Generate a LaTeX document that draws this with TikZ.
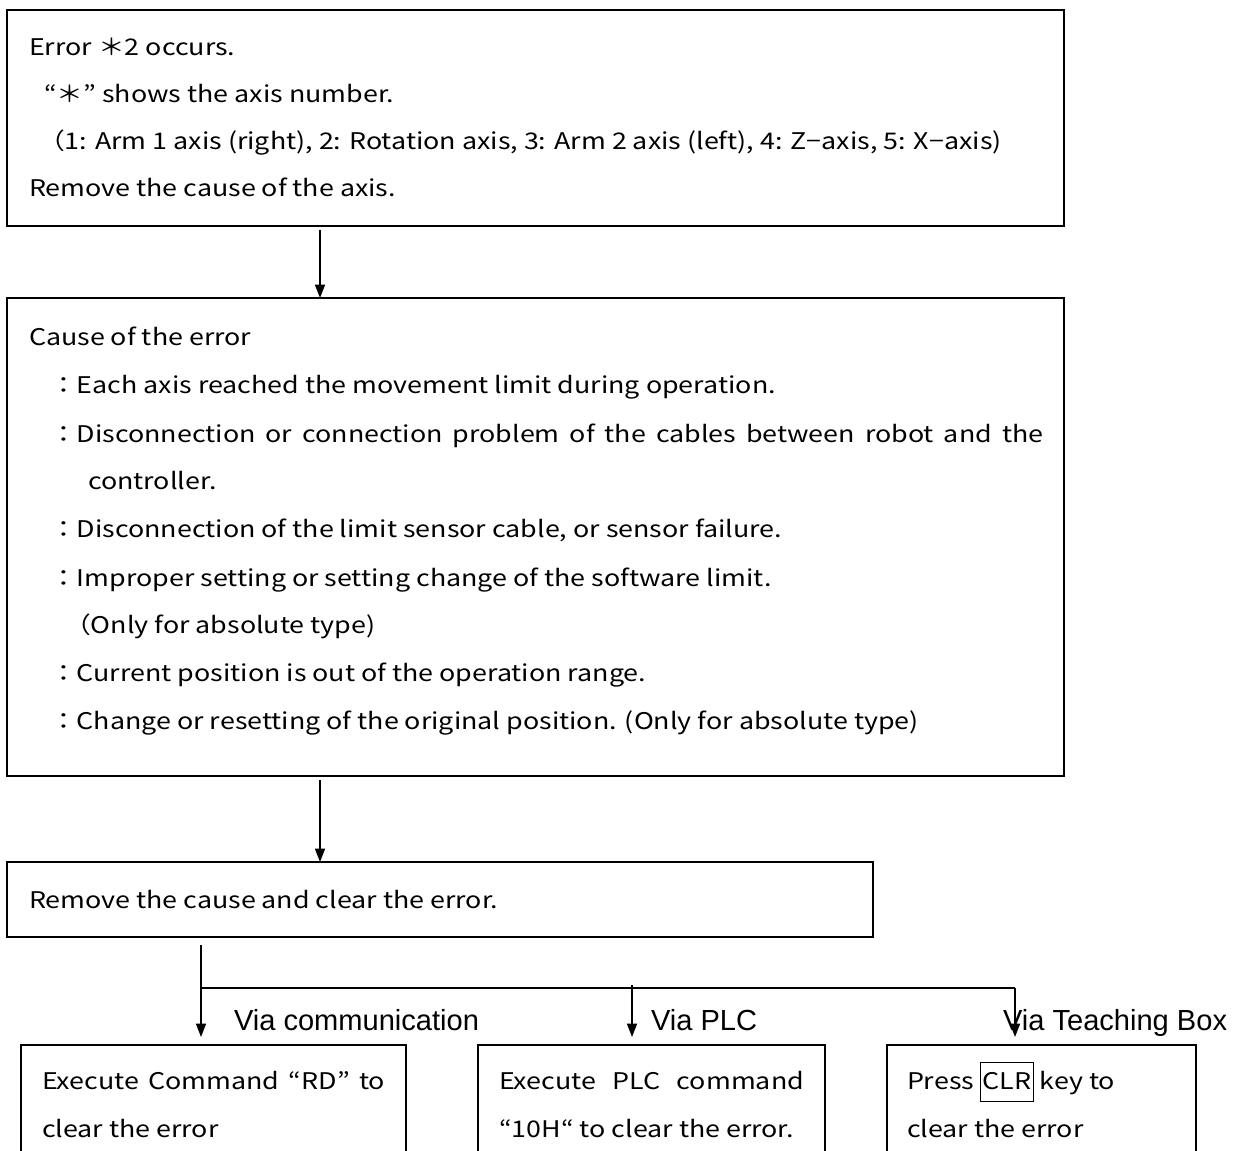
\documentclass[tikz,border=0pt]{standalone}
\usepackage{fontspec}
\setmainfont{Noto Sans CJK JP}[FakeStretch=1.17]
\newfontfamily\arialf{Liberation Sans}
\usetikzlibrary{arrows.meta}
\begin{document}
\begin{tikzpicture}[x=0.75pt,y=-0.75pt,
  box/.style 2 args={draw,line width=1.2pt,inner sep=0pt,outer sep=0pt,minimum width=#1,minimum height=#2},
  txt/.style={anchor=base west,inner sep=0pt,outer sep=0pt,font=\fontsize{17.2pt}{20pt}\selectfont},
  lbl/.style={anchor=base west,inner sep=0pt,outer sep=0pt,font=\arialf\fontsize{21.8pt}{26pt}\selectfont},
  arr/.style={line width=1.1pt,-{Triangle[length=10pt,width=7.5pt]}},
  conn/.style={line width=1.1pt}]
\useasboundingbox (0,0) rectangle (1241,1151);
\clip (0,0) rectangle (1241,1151);
\fill[white] (0,0) rectangle (1241,1151);
% boxes
\node[box={792.75pt}{162pt}] (b1) at (535.5,118) {};
\node[box={792.75pt}{358.5pt}] (b2) at (535.5,537) {};
\node[box={649.5pt}{56.25pt}] (b3) at (440,899.5) {};
\node[box={288.75pt}{120pt}] (bA) at (213.5,1125) {};
\node[box={260.25pt}{120pt}] (bB) at (651.5,1125) {};
\node[box={231.75pt}{120pt}] (bC) at (1041.5,1125) {};
% box 1 text
\node[txt] (t11) at (29,56) {Error\ ＊2 occurs.};
\node[txt] (t12) at (44,103) {“＊” shows the axis number.};
\node[txt] (t13) at (38,150) {（1: Arm 1 axis (right), 2: Rotation axis, 3: Arm 2 axis (left), 4: Z−axis, 5: X−axis)};
\node[txt] (t14) at (29,197) {Remove the cause of the axis.};
% box 2 text
\node[txt] (t21) at (29,346) {Cause of the error};
\node[txt] (t22) at (50,394) {：Each axis reached the movement limit during operation.};
\node[txt] (t23) at (50,442) {\makebox[745pt][s]{：Disconnection or connection problem of the cables between robot and the}};
\node[txt] (t24) at (88,489) {controller.};
\node[txt] (t25) at (50,537) {：Disconnection of the limit sensor cable, or sensor failure.};
\node[txt] (t26) at (50,586) {：Improper setting or setting change of the software limit.};
\node[txt] (t27) at (64,633) {（Only for absolute type)};
\node[txt] (t28) at (50,681) {：Current position is out of the operation range.};
\node[txt] (t29) at (50,729) {：Change or resetting of the original position. (Only for absolute type)};
% box 3 text
\node[txt] (t31) at (29,908) {Remove the cause and clear the error.};
% labels
\node[lbl] (l1) at (234,1030) {Via communication};
\node[lbl] (l2) at (651,1030) {Via PLC};
\node[lbl] (l3) at (1003,1030) {Via Teaching Box};
% bottom texts
\node[txt] (ta1) at (42,1089) {\makebox[257.25pt][s]{Execute Command “RD” to}};
\node[txt] (ta2) at (42,1137) {clear the error};
\node[txt] (tb1) at (499,1089) {\makebox[228.75pt][s]{Execute PLC command}};
\node[txt] (tb2) at (499,1137) {“10H“ to clear the error.};
\node[txt] (tc1) at (907,1089) {Press {\fboxsep=1pt\fboxrule=0.9pt\fbox{\rule[-8pt]{0pt}{26.5pt}CLR}} key to};
\node[txt] (tc2) at (907,1137) {clear the error};
% connectors
\coordinate (ax) at (320,0);
\draw[arr] ([yshift=-3pt]b1.south -| ax) -- (b2.north -| ax);
\draw[arr] ([yshift=-3pt]b2.south -| ax) -- (b3.north -| ax);
\coordinate (bx1) at (201,988);
\coordinate (bx2) at (632,988);
\coordinate (bx3) at (1015,988);
\draw[arr] ([yshift=-6pt]b3.south -| bx1) -- ([yshift=6pt]bA.north -| bx1);
\draw[conn] (bx1) -- (bx3);
\draw[arr] ([yshift=2pt]bx2) -- ([yshift=6pt]bB.north -| bx2);
\draw[arr] (bx3) -- ([yshift=6pt]bC.north -| bx3);
\end{tikzpicture}
\end{document}
